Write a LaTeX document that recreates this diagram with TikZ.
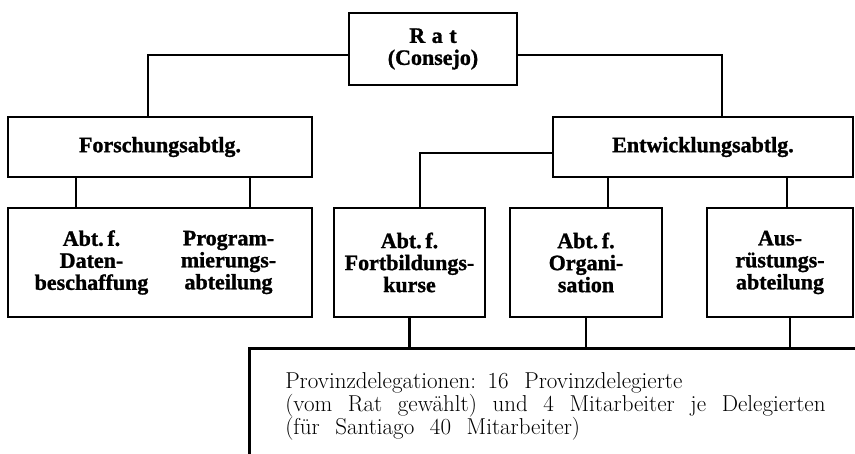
\documentclass[tikz,border=0pt]{standalone}
\usepackage{fontspec}
\newfontfamily\boxfont{Liberation Serif}[BoldFeatures={FakeBold=1.2}]
\newcommand\widespaces{\spaceskip=0.68em plus 0.1em minus 0.1em\relax}
\begin{document}
\begin{tikzpicture}[x=1pt,y=-1pt,
  box/.style={draw, line width=2.6pt, inner sep=0pt, align=center,
    font=\boxfont\bfseries\fontsize{22}{22}\selectfont},
  conn/.style={line width=2.4pt}]
\useasboundingbox (0,0) rectangle (855,453);
\clip (0,0) rectangle (855,453);
\node[box, minimum width=168, minimum height=72] (rat) at (433,49)
  {R\hspace{0.3em}a\hspace{0.3em}t\\(Consejo)};
\node[box, minimum width=304, minimum height=60] (forsch) at (160,147) {Forschungsabtlg.};
\node[box, minimum width=300, minimum height=60] (entw) at (703,147) {Entwicklungsabtlg.};
\node[box, minimum width=304, minimum height=109] (daten) at (160,262.5)
  {\parbox[c]{137pt}{\centering Abt.\,f.\\Daten-\\beschaffung}\parbox[c]{137pt}{\centering Program-\\mierungs-\\abteilung}};
\node[box, minimum width=151, minimum height=109] (fort) at (409.5,262.5) {Abt.\,f.\\Fortbildungs-\\kurse};
\node[box, minimum width=152, minimum height=109] (org) at (586,262.5) {Abt.\,f.\\Organi-\\sation};
\node[box, minimum width=146, minimum height=109] (aus) at (780,262.5) {Aus-\\rüstungs-\\abteilung};
\node[draw, line width=2.6pt, anchor=north west, minimum height=116, text width=580pt,
  inner xsep=36pt, inner ysep=0pt, align=left,
  font=\fontsize{23}{23}\selectfont] (prov) at (248,347)
  {\widespaces Provinzdelegationen: 16 Provinzdelegierte\\(vom Rat gewählt) und 4 Mitarbeiter je Delegierten\\(für Santiago 40 Mitarbeiter)};
% connectors
\draw[conn] ([yshift=-6pt]rat.west) -| ([xshift=-12pt]forsch.north);
\draw[conn] ([yshift=-6pt]rat.east) -| ([xshift=19pt]entw.north);
\draw[conn] ([yshift=-6pt]entw.west) -| ([xshift=10.5pt]fort.north);
\draw[conn] ([xshift=-84pt]forsch.south) -- ([xshift=-84pt]daten.north);
\draw[conn] ([xshift=90pt]forsch.south) -- ([xshift=90pt]daten.north);
\draw[conn] ([xshift=-95pt]entw.south) -- ([xshift=22pt]org.north);
\draw[conn] ([xshift=84pt]entw.south) -- ([xshift=7pt]aus.north);
\draw[conn] (fort.south) -- (fort.south |- prov.north);
\draw[conn] (org.south) -- (org.south |- prov.north);
\draw[conn] ([xshift=10pt]aus.south) -- ([xshift=10pt]aus.south |- prov.north);
\end{tikzpicture}
\end{document}
